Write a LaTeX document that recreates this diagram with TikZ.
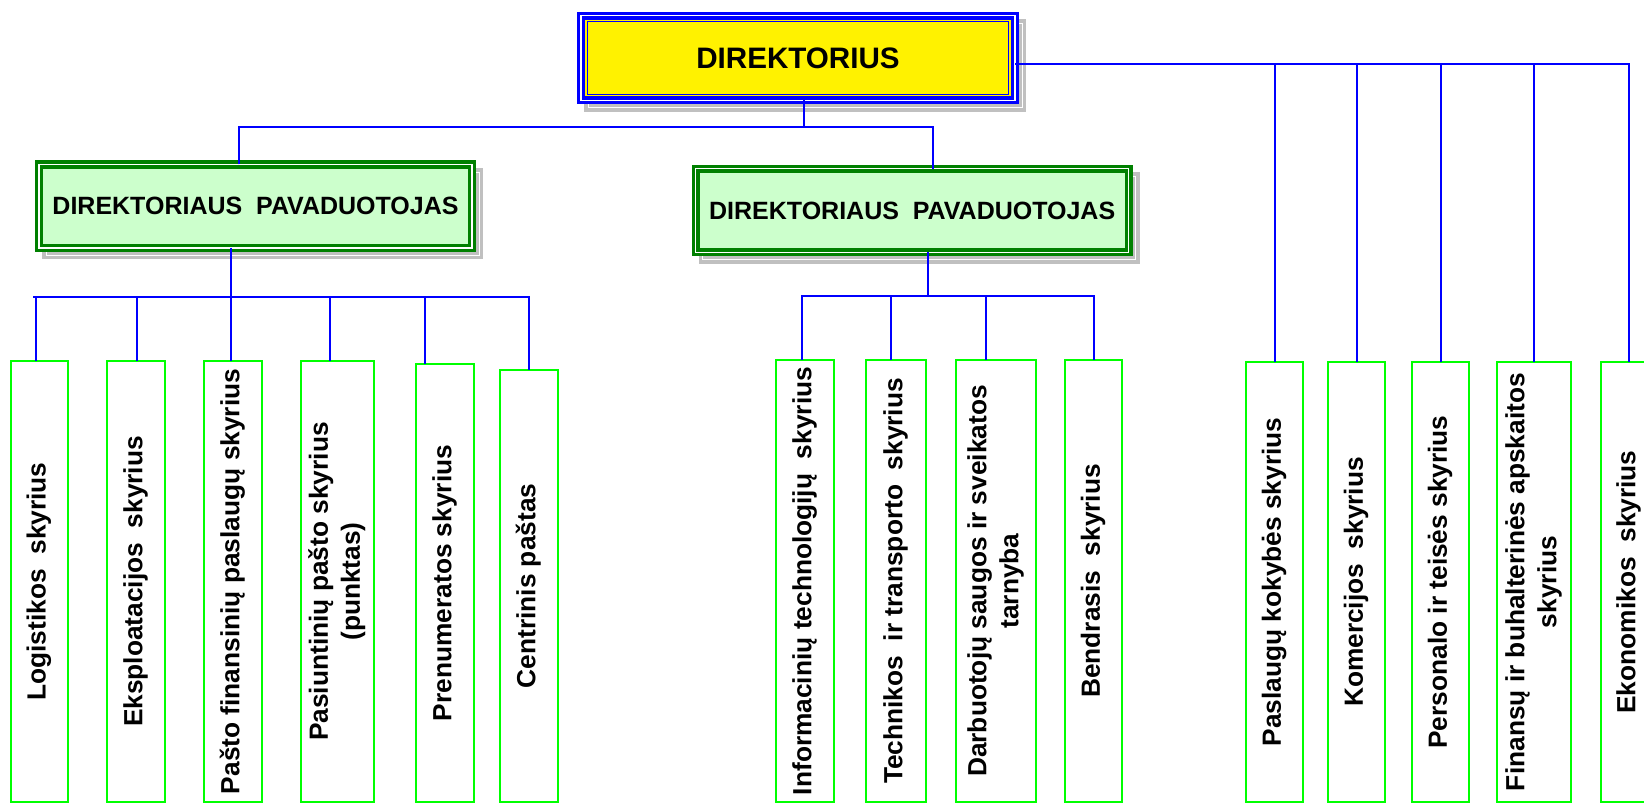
\documentclass[tikz,border=0pt]{standalone}
\usepackage{fontspec}
\setmainfont{Liberation Sans}
\usepackage{graphicx}
\usetikzlibrary{positioning,calc,backgrounds}
\definecolor{tamsizalia}{HTML}{008000}
\definecolor{sviesizalia}{HTML}{CCFFCC}
\definecolor{pilka}{HTML}{C0C0C0}
\newcommand{\vtekstas}[1]{\rotatebox{90}{\begin{tabular}{@{}c@{}}#1\end{tabular}}}

\begin{document}
\begin{tikzpicture}
  [x=1pt, y=1pt,
   vadovas/.style={
     rectangle,
     fill=yellow,
     draw=blue,
     double=white,
     double distance=1.3,
     line width=3.3,
     inner sep=0,
     outer sep=0,
     minimum width=434,
     minimum height=84.7,
     font=\fontsize{29.6}{34}\selectfont\bfseries
     },
   pavaduotojas/.style={
     rectangle,
     fill=sviesizalia,
     draw=tamsizalia,
     double=white,
     double distance=1.4,
     line width=3.4,
     inner sep=0,
     outer sep=0,
     minimum width=433,
     minimum height=83.5,
     font=\fontsize{25}{30}\selectfont\bfseries
     },
   seselis/.style={
     fill=pilka,
     draw=pilka,
     double=white,
     double distance=0.8,
     line width=3.4
     },
   skyrius/.style={
     rectangle,
     draw=green,
     line width=2,
     inner sep=0,
     outer sep=0,
     font=\fontsize{26.3}{32}\selectfont\bfseries
     },
   linija/.style={draw=blue, line width=2}
  ]
  \useasboundingbox (0,0) rectangle (1644,-805);
  \clip (0,0) rectangle (1644,-805);

  % VADOVYBE
  \node [vadovas] (direktorius) at (798,-58) {DIREKTORIUS};
  \draw [blue, line width=1.2]
    ($(direktorius.north west)+(6.15,-6.15)$) rectangle ($(direktorius.south east)+(-6.15,6.15)$);

  \node [pavaduotojas] (pavaduotojas1) at (255.5,-206.2) {DIREKTORIAUS\ \ PAVADUOTOJAS};
  \node [pavaduotojas] (pavaduotojas2) at (912.2,-210.5) {DIREKTORIAUS\ \ PAVADUOTOJAS};

  \begin{scope}[on background layer]
    \foreach \n in {direktorius, pavaduotojas1, pavaduotojas2}
      \draw [seselis] ($(\n.north west)+(7,-7.5)$) rectangle ($(\n.south east)+(7,-7.5)$);
  \end{scope}

  % SKYRIAI (pirmasis pavaduotojas)
  \node [skyrius, minimum width=57.5, minimum height=441, anchor=north west]
    (logistikos) at (10.5,-361) {\vtekstas{Logistikos\ \ skyrius}};
  \node [skyrius, minimum width=58, minimum height=441,
    right=39pt of logistikos.north east, anchor=north west]
    (eksploatacijos) {\vtekstas{Eksploatacijos\ \ skyrius}};
  \node [skyrius, minimum width=58, minimum height=441,
    right=39pt of eksploatacijos.north east, anchor=north west]
    (pastofinansu) {\vtekstas{Pašto finansinių paslaugų skyrius}};
  \node [skyrius, minimum width=73, minimum height=441,
    right=39pt of pastofinansu.north east, anchor=north west]
    (pasiuntiniu) {\vtekstas{Pasiuntinių pašto skyrius\\(punktas)}};
  \node [skyrius, minimum width=58, minimum height=438,
    below right=3pt and 42pt of pasiuntiniu.north east, anchor=north west]
    (prenumeratos) {\vtekstas{Prenumeratos skyrius}};
  \node [skyrius, minimum width=58, minimum height=432,
    below right=6pt and 26pt of prenumeratos.north east, anchor=north west]
    (centrinis) {\vtekstas{Centrinis paštas}};

  % SKYRIAI (antrasis pavaduotojas)
  \node [skyrius, minimum width=58, minimum height=442, anchor=north west]
    (informaciniu) at (776,-360) {\vtekstas{Informacinių technologijų\ \ skyrius}};
  \node [skyrius, minimum width=60, minimum height=442,
    right=32pt of informaciniu.north east, anchor=north west]
    (technikos) {\vtekstas{Technikos\ \ ir transporto\ \ skyrius}};
  \node [skyrius, minimum width=80, minimum height=442,
    right=30pt of technikos.north east, anchor=north west]
    (darbuotoju) {\vtekstas{Darbuotojų saugos ir sveikatos\\tarnyba}};
  \node [skyrius, minimum width=57, minimum height=442,
    right=29pt of darbuotoju.north east, anchor=north west]
    (bendrasis) {\vtekstas{Bendrasis\ \ skyrius}};

  % SKYRIAI (direktorius)
  \node [skyrius, minimum width=57, minimum height=440, anchor=north west]
    (paslaugu) at (1246,-362) {\vtekstas{Paslaugų kokybės skyrius}};
  \node [skyrius, minimum width=57, minimum height=440,
    right=25pt of paslaugu.north east, anchor=north west]
    (komercijos) {\vtekstas{Komercijos\ \ skyrius}};
  \node [skyrius, minimum width=57, minimum height=440,
    right=27pt of komercijos.north east, anchor=north west]
    (personalo) {\vtekstas{Personalo ir teisės skyrius}};
  \node [skyrius, minimum width=74, minimum height=440,
    right=28pt of personalo.north east, anchor=north west]
    (finansu) {\vtekstas{Finansų ir buhalterinės apskaitos\\skyrius}};
  \node [skyrius, minimum width=56, minimum height=440,
    right=30pt of finansu.north east, anchor=north west]
    (ekonomikos) {\vtekstas{Ekonomikos\ \ skyrius}};

  % LINIJOS
  \coordinate (dirbus) at ($(direktorius.south)+(6,-27)$);
  \draw [linija] ([xshift=6]direktorius.south) -- (dirbus);
  \draw [linija] ([xshift=-16.5]pavaduotojas1.north) |- (dirbus) -| ([xshift=21]pavaduotojas2.north);

  \coordinate (lbus) at ($(pavaduotojas1.south)+(-24.5,-49)$);
  \draw [linija] ([xshift=-24.5]pavaduotojas1.south) -- (lbus);
  \draw [linija] ($(logistikos.north |- lbus)+(-6,0)$) -- ($(centrinis.north |- lbus)+(1,0)$);
  \foreach \n/\dx in {logistikos/-3, eksploatacijos/1, pastofinansu/-2, pasiuntiniu/-7.5, prenumeratos/-20, centrinis/0}
    \draw [linija] ($(\n.north)+(\dx,0)$) -- ($(\n.north |- lbus)+(\dx,0)$);

  \coordinate (cbus) at ($(pavaduotojas2.south)+(16,-44)$);
  \draw [linija] ([xshift=16]pavaduotojas2.south) -- (cbus);
  \draw [linija] ($(informaciniu.north |- cbus)+(-4,0)$) -- ($(bendrasis.north |- cbus)+(1,0)$);
  \foreach \n/\dx in {informaciniu/-3, technikos/-5, darbuotoju/-10, bendrasis/0}
    \draw [linija] ($(\n.north)+(\dx,0)$) -- ($(\n.north |- cbus)+(\dx,0)$);

  \coordinate (rbus) at ($(direktorius.east)+(0,-6)$);
  \draw [linija] (rbus) -| (ekonomikos.north);
  \foreach \n in {paslaugu, komercijos, personalo, finansu}
    \draw [linija] (\n.north) -- (\n.north |- rbus);
\end{tikzpicture}
\end{document}
